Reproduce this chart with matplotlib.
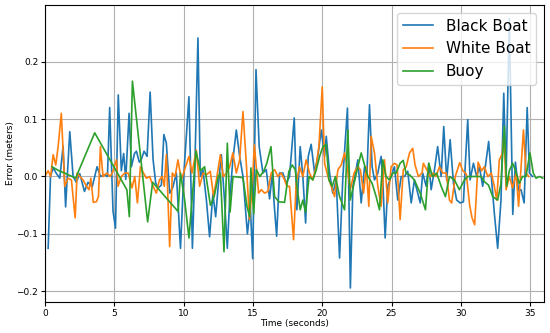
from matplotlib import pyplot as plt
import numpy as np

# Black Boat
t_black = [0.22, 0.39, 0.58, 0.82, 1.06, 1.30, 1.48, 1.78, 2.02, 2.25, 2.5, 2.84, 3.1, 3.4, 3.75,
           4.0, 4.3, 4.5, 4.66, 4.9, 5.08, 5.28, 5.5, 5.67, 5.82, 6.06, 6.23, 6.45, 6.59, 6.8,
           6.95, 7.14, 7.36, 7.58, 7.79, 7.98, 8.15, 8.39, 8.57, 8.75, 8.99, 9.23, 9.47, 9.77,
           10.0, 10.38, 10.63, 10.79, 11.03, 11.2, 11.39, 11.64, 11.87, 12.11, 12.31, 12.47,
           12.72, 12.96, 13.15, 13.32, 13.55, 13.8, 14.04, 14.28, 14.6, 14.81, 14.98, 15.22,
           15.45, 15.72, 15.96, 16.2, 16.4, 16.51, 16.71, 16.92, 17.16, 17.4, 17.64, 17.98,
           18.17, 18.41, 18.6, 18.8, 18.99, 19.2, 19.45, 19.68, 19.93, 20.17, 20.29, 20.53,
           20.76, 21.01, 21.25, 21.49, 21.82, 22.03, 22.21, 22.57, 22.81, 23.05, 23.22, 23.41,
           23.6, 23.77, 24.01, 24.25, 24.37, 24.54, 24.73, 24.97, 25.21, 25.45, 25.7, 25.93,
           26.17, 26.42, 26.65, 26.89, 27.07, 27.25, 27.5, 27.69, 27.86, 28.1, 28.33, 28.58,
           28.77, 28.98, 29.23, 29.47, 29.7, 29.95, 30.19, 30.33, 30.5, 30.67, 30.91, 31.15,
           31.34, 31.58, 31.77, 32.01, 32.26, 32.42, 32.66, 32.9, 33.1, 33.27, 33.5, 33.75,
           33.94, 34.17, 34.35, 34.57, 34.79, 34.95, 35.18]
e_black = [-0.125, 0.0, 0.015, 0.005, -0.003, 0.053, -0.053, 0.078, 0.0, -0.01, 0.005, -0.026,
           -0.01, -0.018, 0.017, 0.0, 0.003, 0.0, 0.12, -0.06, -0.09, 0.142, 0.01, 0.04, -0.005,
           0.11, 0.017, 0.04, 0.044, 0.025, 0.03, 0.044, 0.035, 0.147, 0.03, -0.011, -0.02,
           -0.015, 0.073, 0.058, -0.029, -0.018, 0.006, -0.125, 0.0, 0.139, -0.125, 0.0, 0.241,
           0.0, 0.012, -0.041, -0.105, -0.03, -0.07, -0.023, 0.038, -0.046, -0.125, -0.041,
           0.029, 0.081, 0.035, 0.0, -0.1, -0.052, -0.143, 0.186, 0.052, 0.006, 0.012, -0.039,
           0.006, -0.041, -0.104, 0.006, 0.006, -0.012, 0.0, 0.102, -0.058, 0.052, 0.0, -0.081,
           0.035, 0.056, 0.006, 0.035, 0.081, 0.035, 0.07, 0.006, -0.029, -0.006, -0.142, 0.0,
           0.119, -0.194, -0.017, 0.029, -0.046, 0.017, 0.0, 0.125, 0.017, -0.006, 0.006, 0.035,
           -0.006, -0.107, -0.017, 0.0, 0.017, -0.041, 0.0, 0.0, 0.009, -0.046, -0.006, -0.029,
           -0.046, 0.006, -0.017, 0.023, -0.023, 0.012, 0.052, 0.0, 0.087, -0.006, 0.064,
           -0.012, -0.041, -0.046, -0.044, 0.023, 0.099, -0.006, 0.023, 0.0, 0.017, -0.017,
           0.017, 0.061, -0.017, -0.064, -0.125, -0.041, 0.145, 0.0, 0.275, -0.066, 0.025,
           -0.025, -0.023, -0.046, 0.12, 0.006, 0.0]

# White Boat
t_white = [0.05, 0.22, 0.4, 0.58, 0.77, 0.94, 1.17, 1.42, 1.66, 1.9, 2.17, 2.31, 2.5, 2.74, 2.98,
           3.17, 3.3, 3.48, 3.7, 3.85, 3.99, 4.18, 4.45, 4.7, 4.9, 5.15, 5.26, 5.5, 5.75, 6.0,
           6.27, 6.47, 6.66, 6.88, 7.1, 7.31, 7.55, 7.79, 8.03, 8.25, 8.45, 8.6, 8.75, 8.99,
           9.18, 9.38, 9.59, 9.83, 10.07, 10.38, 10.6, 10.91, 11.15, 11.4, 11.65, 11.92, 12.16,
           12.4, 12.65, 12.85, 13.1, 13.32, 13.55, 13.8, 14.04, 14.28, 14.52, 14.75, 14.95,
           15.1, 15.41, 15.6, 15.84, 16.08, 16.32, 16.56, 16.8, 17.04, 17.28, 17.45, 17.64,
           17.93, 18.12, 18.36, 18.6, 18.84, 19.08, 19.32, 19.55, 19.76, 20.0, 20.17, 20.41,
           20.65, 20.89, 21.13, 21.37, 21.61, 21.8, 22.02, 22.3, 22.55, 22.75, 22.98, 23.18,
           23.36, 23.53, 23.77, 24.01, 24.25, 24.49, 24.73, 24.97, 25.21, 25.4, 25.62, 25.85,
           26.06, 26.3, 26.53, 26.7, 26.94, 27.2, 27.3, 27.54, 27.8, 28.0, 28.2, 28.46, 28.7,
           28.95, 29.18, 29.34, 29.6, 29.92, 30.15, 30.4, 30.64, 30.81, 31.0, 31.25, 31.5,
           31.7, 31.95, 32.2, 32.42, 32.59, 32.78, 33.0, 33.12, 33.27, 33.5, 33.74, 33.99,
           34.17, 34.35, 34.52, 34.71, 34.9]
e_white = [0.003, 0.01, 0.0, 0.038, 0.02, 0.052, 0.11, -0.017, -0.003, -0.006, -0.072, 0.006,
           0.0, -0.006, -0.017, -0.023, -0.003, -0.045, -0.044, -0.035, 0.052, 0.0, 0.006, 0.0,
           0.009, 0.029, -0.017, 0.0, 0.006, 0.006, -0.02, 0.0, -0.046, 0.017, 0.006, -0.003,
           0.0, -0.017, -0.029, -0.006, 0.0, -0.017, 0.038, -0.122, 0.006, 0.0, 0.029, -0.006,
           0.012, 0.035, 0.006, 0.046, -0.017, 0.006, 0.003, 0.009, -0.035, 0.0, 0.038, 0.0,
           0.006, 0.017, 0.041, 0.006, 0.029, 0.113, 0.023, -0.075, -0.017, 0.055, -0.029,
           -0.023, -0.029, -0.026, 0.006, 0.012, 0.0, 0.006, -0.006, -0.017, -0.017, -0.11,
           -0.012, 0.017, 0.0, 0.029, 0.006, -0.006, 0.017, 0.052, 0.156, 0.023, 0.0, -0.017,
           -0.035, 0.012, 0.02, 0.041, 0.017, -0.023, 0.006, 0.017, 0.012, -0.029, 0.017,
           -0.052, 0.07, 0.041, -0.017, -0.052, 0.029, -0.046, 0.017, 0.023, 0.02, -0.075,
           0.012, 0.017, 0.041, 0.049, 0.02, 0.0, 0.006, 0.023, 0.012, 0.0, 0.006, 0.0, 0.017,
           0.006, 0.006, -0.041, -0.046, 0.0, 0.024, 0.01, 0.004, -0.05, -0.072, -0.084, 0.025,
           0.01, 0.017, 0.0, 0.006, -0.017, -0.041, 0.029, 0.04, 0.075, -0.023, 0.0, -0.02,
           0.006, -0.052, 0.017, 0.081, 0.006, 0.0]

# Buoy
t_buoy = [0.5, 1.0, 1.5, 2.2, 3.58, 5.9, 6.08, 6.3, 7.4, 7.76, 9.6, 9.77, 10.07, 10.38, 10.89,
          11.2, 11.51, 11.93, 12.2, 12.5, 12.65, 12.91, 13.15, 13.35, 13.56, 14.28, 14.57,
          14.76, 14.85, 15.05, 15.24, 15.5, 15.77, 16.0, 16.3, 16.56, 16.87, 17.28, 17.59,
          17.84, 18.05, 18.24, 18.41, 18.6, 18.8, 19.05, 19.32, 19.55, 19.81, 20.05, 20.29,
          20.48, 20.72, 20.95, 21.25, 21.61, 21.85, 22.02, 22.3, 22.57, 22.81, 23.05, 23.3,
          23.6, 23.89, 24.13, 24.37, 24.6, 24.85, 25.1, 25.33, 25.62, 25.84, 26.05, 26.3,
          26.65, 27.07, 27.45, 27.69, 27.95, 28.26, 28.58, 28.89, 29.18, 29.54, 29.9, 30.26,
          30.5, 31.1, 31.46, 31.7, 32.0, 32.3, 32.66, 32.9, 33.14, 33.31, 33.5, 33.74, 33.95,
          34.22, 34.45, 34.7, 34.99, 35.23, 35.43, 35.67, 35.91]
e_buoy = [0.017, 0.01, 0.005, -0.003, 0.076, -0.023, -0.07, 0.166, -0.079, -0.01, -0.061,
          0.006, -0.041, -0.107, 0.044, 0.01, 0.017, -0.05, -0.035, 0.0, 0.006, -0.131, 0.058,
          -0.062, 0.0, -0.002, -0.052, -0.07, 0.015, -0.065, 0.012, 0.0, 0.009, 0.023, 0.052,
          -0.035, -0.044, -0.045, 0.009, 0.02, 0.012, -0.029, -0.058, -0.041, -0.062, 0.0,
          -0.006, 0.01, 0.035, 0.052, 0.056, -0.006, -0.017, 0.0, -0.035, -0.058, 0.081,
          -0.041, -0.012, 0.017, 0.041, 0.02, 0.0, -0.012, -0.035, -0.058, 0.029, 0.0, -0.006,
          0.006, 0.006, 0.023, 0.028, 0.006, 0.003, -0.006, -0.029, -0.058, 0.023, 0.0, 0.006,
          -0.017, -0.035, 0.0, -0.006, -0.023, -0.006, 0.0, 0.0, 0.0, -0.009, -0.015, -0.035,
          -0.041, -0.012, 0.087, -0.017, 0.01, 0.023, 0.01, -0.012, 0.0, 0.0, 0.041, 0.006,
          -0.003, 0.0, -0.003]

fig = plt.figure(figsize=(5.5, 3.33), dpi=100)
ax = fig.add_subplot(111)
fig.subplots_adjust(left=0.082, right=0.989, top=0.985, bottom=0.093)

ax.plot(t_black, e_black, label='Black Boat', linewidth=1.2)
ax.plot(t_white, e_white, label='White Boat', linewidth=1.2)
ax.plot(t_buoy, e_buoy, label='Buoy', linewidth=1.2)

ax.set_xlim(0, 36)
ax.set_ylim(-0.2185, 0.2985)
ax.grid(True)
ax.tick_params(labelsize=6.5, length=3, pad=2)
ax.set_xlabel('Time (seconds)', fontsize=6.5, labelpad=1)
ax.set_ylabel('Error (meters)', fontsize=6.5, labelpad=1)
ax.legend(loc='upper right', fontsize=11)

fig.savefig('out.png', dpi=100)
